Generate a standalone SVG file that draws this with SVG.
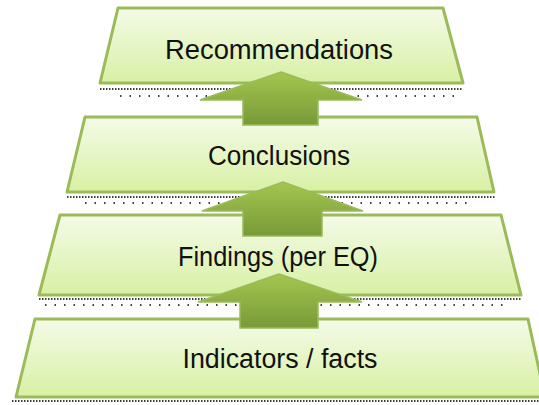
<svg xmlns="http://www.w3.org/2000/svg" width="539" height="405" viewBox="0 0 539 405">
  <defs>
    <linearGradient id="gTrap" x1="0" y1="0" x2="0" y2="1">
      <stop offset="0" stop-color="#f4fbe8"/>
      <stop offset="1" stop-color="#d8f0a4"/>
    </linearGradient>
    <linearGradient id="gArrow" x1="0" y1="0" x2="0" y2="1">
      <stop offset="0" stop-color="#a4c64f"/>
      <stop offset="1" stop-color="#789a38"/>
    </linearGradient>
    <style>
      .trap { fill: url(#gTrap); stroke: #9bbb59; stroke-width: 3; stroke-linejoin: round; }
      .arrow { fill: url(#gArrow); stroke: #9bbb59; stroke-width: 1.5; stroke-linejoin: miter; }
      .lbl { font-family: "Liberation Sans", Arial, sans-serif; font-size: 27px; fill: #111; text-anchor: middle; }
      .dots1 { stroke: #000; stroke-width: 1.6; stroke-dasharray: 1.5 1.5; fill: none; }
      .dots2 { stroke: #000; stroke-width: 1.6; stroke-dasharray: 1.5 8; fill: none; }
    </style>
  </defs>

  <g id="shadows">
    <line class="dots1" x1="100" y1="89" x2="463" y2="89"/>
    <line class="dots2" x1="120" y1="96" x2="460" y2="96"/>
    <line class="dots1" x1="67" y1="197" x2="495" y2="197"/>
    <line class="dots2" x1="85" y1="203" x2="470" y2="203"/>
    <line class="dots1" x1="39" y1="299" x2="521" y2="299"/>
    <line class="dots2" x1="45" y1="305" x2="505" y2="305"/>
    <line class="dots1" x1="12" y1="401" x2="539" y2="401"/>
  </g>

  <g id="n4">
    <polygon class="trap" points="35,319 528,319 545,397 16,397"/>
    <text class="lbl" x="280" y="368" textLength="195" lengthAdjust="spacingAndGlyphs">Indicators / facts</text>
  </g>
  <g id="n3">
    <polygon class="trap" points="60,215 501,215 521,295 39,295"/>
    <text class="lbl" x="278" y="266" textLength="200" lengthAdjust="spacingAndGlyphs">Findings (per EQ)</text>
  </g>
  <g id="n2">
    <polygon class="trap" points="85,117 477,117 494,192 67,192"/>
    <text class="lbl" x="279" y="165" textLength="142" lengthAdjust="spacingAndGlyphs">Conclusions</text>
  </g>
  <g id="n1">
    <polygon class="trap" points="118,8 443,8 463,83 100,83"/>
    <text class="lbl" x="279" y="59" textLength="228" lengthAdjust="spacingAndGlyphs">Recommendations</text>
  </g>

  <g id="connectors">
    <polygon class="arrow" points="281,72 362,100 318,100 318,125 243,125 243,100 200,100"/>
    <polygon class="arrow" points="283,182 363,211 322,211 322,236 243,236 243,211 202,211"/>
    <polygon class="arrow" points="279,274 362,302 318,302 318,328 240,328 240,302 198,302"/>
  </g>
</svg>
